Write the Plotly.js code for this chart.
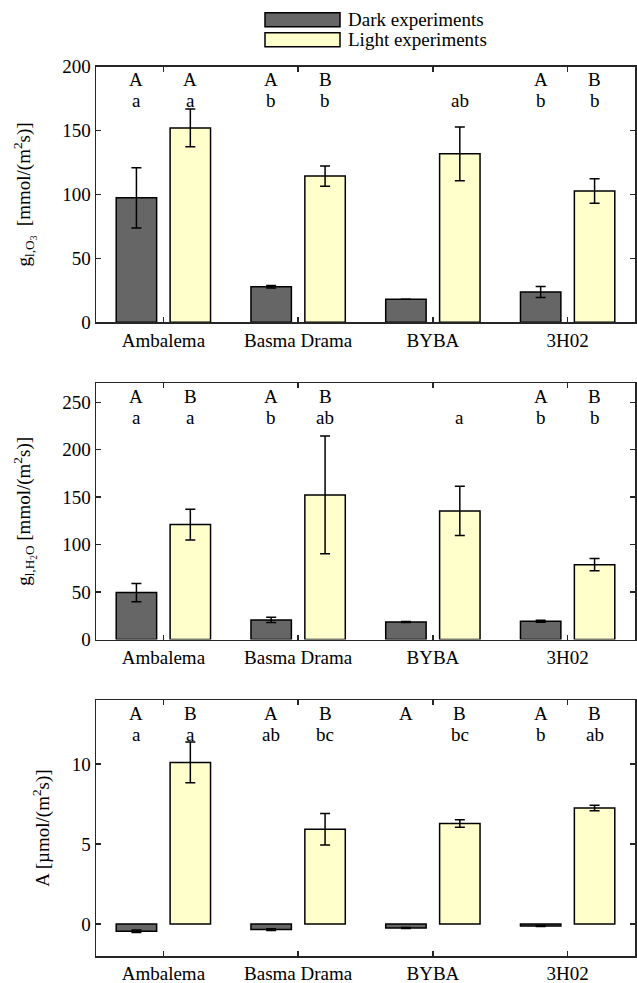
<!DOCTYPE html>
<html>
<head>
<meta charset="utf-8">
<script src="https://cdn.plot.ly/plotly-3.0.1.min.js"></script>
<style>html,body{margin:0;padding:0;background:#fff;}</style>
</head>
<body>
<div id="chart" style="width:637px;height:983px;"></div>
<script>
// ---- data ----
const categories = ['Ambalema', 'Basma Drama', 'BYBA', '3H02'];

const gO3Dark = [97.3, 27.8, 18.0, 23.7];
const gO3DarkErr = [23.5, 1.0, 0, 4.3];
const gO3Light = [152.0, 114.3, 131.7, 102.6];
const gO3LightErr = [14.7, 8.0, 21.0, 9.6];

const gH2ODark = [49.4, 20.6, 18.5, 19.2];
const gH2ODarkErr = [9.6, 2.8, 0.5, 1.0];
const gH2OLight = [121.1, 152.4, 135.5, 78.9];
const gH2OLightErr = [16.2, 62.0, 26.0, 6.5];

const aDark = [-0.45, -0.35, -0.25, -0.12];
const aDarkErr = [0.08, 0.06, 0.03, 0.03];
const aLight = [10.1, 5.92, 6.28, 7.25];
const aLightErr = [1.27, 0.98, 0.24, 0.17];

// significance letters (per category)
const p1UpperDark = ['A', 'A', '', 'A'];
const p1UpperLight = ['A', 'B', '', 'B'];
const p1LowerDark = ['a', 'b', '', 'b'];
const p1LowerLight = ['a', 'b', 'ab', 'b'];

const p2UpperDark = ['A', 'A', '', 'A'];
const p2UpperLight = ['B', 'B', '', 'B'];
const p2LowerDark = ['a', 'b', '', 'b'];
const p2LowerLight = ['a', 'ab', 'a', 'b'];

const p3UpperDark = ['A', 'A', 'A', 'A'];
const p3UpperLight = ['B', 'B', 'B', 'B'];
const p3LowerDark = ['a', 'ab', '', 'b'];
const p3LowerLight = ['a', 'bc', 'bc', 'ab'];

const legendLabels = ['Dark experiments', 'Light experiments'];

// ---- styles ----
const FONT = '"Liberation Serif", "Times New Roman", Times, serif';
const DARK = '#666666';
const LIGHT = '#ffffcc';
const AXC = '#262626';

function barTrace(y, err, color, xa, ya) {
  return {
    type: 'bar', x: categories, y: y, xaxis: xa, yaxis: ya,
    marker: {color: color, line: {color: '#000', width: 1.5}},
    error_y: {type: 'data', array: err, visible: true, color: '#000', thickness: 1.5, width: 5},
    showlegend: false, hoverinfo: 'skip'
  };
}

const data = [
  barTrace(gO3Dark, gO3DarkErr, DARK, 'x', 'y'),
  barTrace(gO3Light, gO3LightErr, LIGHT, 'x', 'y'),
  barTrace(gH2ODark, gH2ODarkErr, DARK, 'x2', 'y2'),
  barTrace(gH2OLight, gH2OLightErr, LIGHT, 'x2', 'y2'),
  barTrace(aDark, aDarkErr, DARK, 'x3', 'y3'),
  barTrace(aLight, aLightErr, LIGHT, 'x3', 'y3')
];

const annotations = [];
function addLetters(arr, xa, ya, off, shift) {
  arr.forEach((t, i) => {
    if (!t) return;
    annotations.push({
      text: t, x: i + off, xref: xa, y: 1, yref: ya + ' domain',
      yanchor: 'middle', xanchor: 'center', yshift: shift, showarrow: false,
      font: {family: FONT, size: 19, color: '#000'}
    });
  });
}
const UP = -13.5, LO = -34.5;
addLetters(p1UpperDark, 'x', 'y', -0.2, UP);
addLetters(p1UpperLight, 'x', 'y', 0.2, UP);
addLetters(p1LowerDark, 'x', 'y', -0.2, LO);
addLetters(p1LowerLight, 'x', 'y', 0.2, LO);
addLetters(p2UpperDark, 'x2', 'y2', -0.2, UP);
addLetters(p2UpperLight, 'x2', 'y2', 0.2, UP);
addLetters(p2LowerDark, 'x2', 'y2', -0.2, LO);
addLetters(p2LowerLight, 'x2', 'y2', 0.2, LO);
addLetters(p3UpperDark, 'x3', 'y3', -0.2, UP);
addLetters(p3UpperLight, 'x3', 'y3', 0.2, UP);
addLetters(p3LowerDark, 'x3', 'y3', -0.2, LO);
addLetters(p3LowerLight, 'x3', 'y3', 0.2, LO);

// legend (drawn manually, wide patches)
const W = 637, H = 983, ML = 96, MR = 2;
const PW = W - ML - MR;
const px = v => (v - ML) / PW;
const py = v => 1 - v / H;
const shapes = [
  {type: 'rect', xref: 'paper', yref: 'paper', x0: px(265), x1: px(340), y0: py(26.7), y1: py(12.7),
   fillcolor: DARK, line: {color: '#000', width: 1.5}},
  {type: 'rect', xref: 'paper', yref: 'paper', x0: px(265), x1: px(340), y0: py(46.7), y1: py(32.7),
   fillcolor: LIGHT, line: {color: '#000', width: 1.5}}
];
annotations.push({text: legendLabels[0], xref: 'paper', yref: 'paper', x: px(346), y: py(19.7),
  xanchor: 'left', yanchor: 'middle', showarrow: false, font: {family: FONT, size: 19, color: '#000'}});
annotations.push({text: legendLabels[1], xref: 'paper', yref: 'paper', x: px(346), y: py(39.7),
  xanchor: 'left', yanchor: 'middle', showarrow: false, font: {family: FONT, size: 19, color: '#000'}});

function xAxis(anchor) {
  return {
    anchor: anchor, type: 'category', range: [-0.5, 3.5],
    showline: true, linecolor: AXC, linewidth: 1.5, mirror: 'ticks',
    ticks: 'inside', ticklen: 5, tickcolor: AXC, tickwidth: 1.5,
    showgrid: false, zeroline: false, fixedrange: true,
    tickfont: {family: FONT, size: 19, color: '#000'}
  };
}
function yAxis(anchor, domain, range, tickvals, title, standoff) {
  return {
    anchor: anchor, domain: domain, range: range, tickvals: tickvals,
    showline: true, linecolor: AXC, linewidth: 1.5, mirror: 'ticks',
    ticks: 'inside', ticklen: 5, tickcolor: AXC, tickwidth: 1.5,
    showgrid: false, zeroline: false, fixedrange: true,
    tickfont: {family: FONT, size: 19, color: '#000'},
    title: {text: title, font: {family: FONT, size: 19, color: '#000'}, standoff: standoff}
  };
}

const layout = {
  width: W, height: H,
  margin: {l: ML, r: MR, t: 0, b: 0},
  paper_bgcolor: '#fff', plot_bgcolor: '#fff',
  barmode: 'group', bargap: 0.2, bargroupgap: 0.25,
  showlegend: false,
  font: {family: FONT, size: 19, color: '#000'},
  xaxis: xAxis('y'),
  xaxis2: xAxis('y2'),
  xaxis3: xAxis('y3'),
  yaxis: yAxis('x', [py(322.3), py(66.5)], [0, 200], [0, 50, 100, 150, 200],
    'g<sub>l,O<sub>3</sub></sub>  [mmol/(m<sup>2</sup>s)]', 26),
  yaxis2: yAxis('x2', [py(639.5), py(383.3)], [0, 270], [0, 50, 100, 150, 200, 250],
    'g<sub>l,H<sub>2</sub>O</sub> [mmol/(m<sup>2</sup>s)]', 26),
  yaxis3: yAxis('x3', [py(956), py(700)], [-2, 14], [0, 5, 10],
    'A [µmol/(m<sup>2</sup>s)]', 17),
  annotations: annotations,
  shapes: shapes
};

Plotly.newPlot('chart', data, layout, {displayModeBar: false, staticPlot: true});
</script>
</body>
</html>
